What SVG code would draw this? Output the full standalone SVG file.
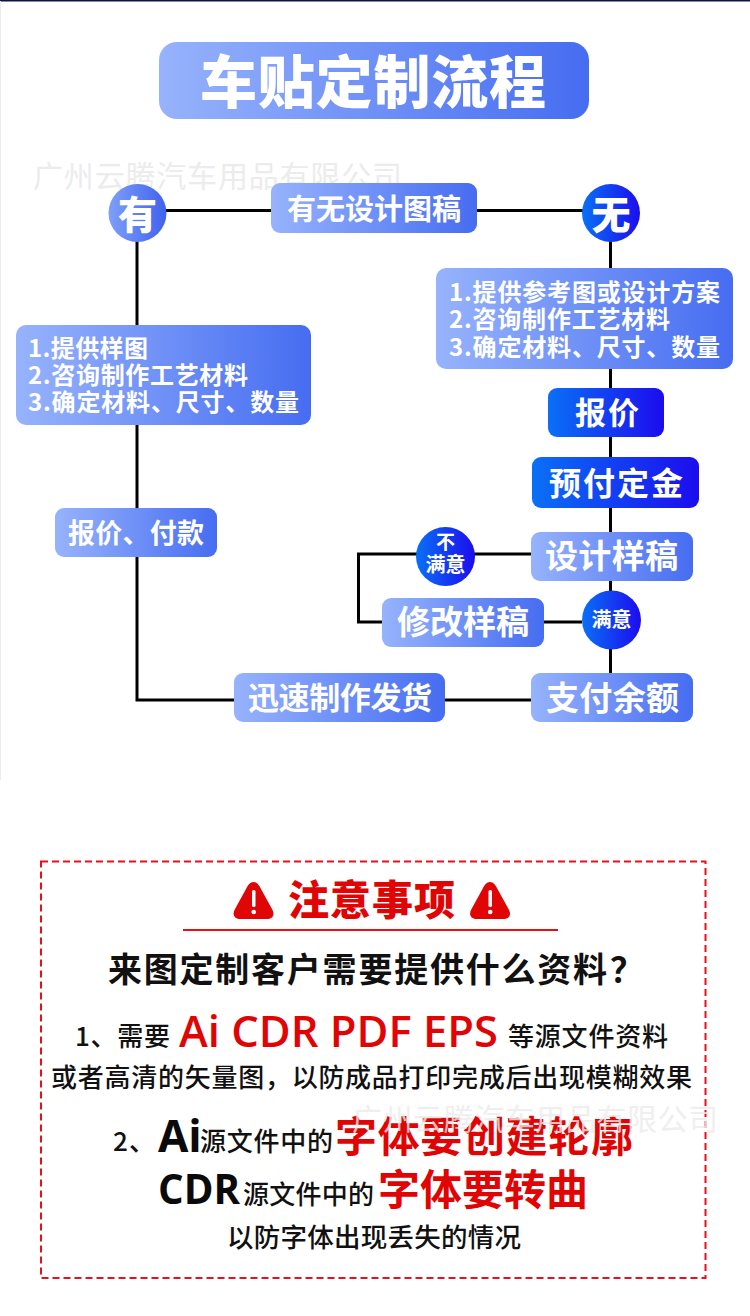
<svg xmlns="http://www.w3.org/2000/svg" width="750" height="1316" viewBox="0 0 750 1316">
<defs>
<linearGradient id="soft" x1="0" y1="0" x2="1" y2="0"><stop offset="0" stop-color="#97b3fc"/><stop offset="1" stop-color="#466df1"/></linearGradient>
<linearGradient id="deep" x1="0" y1="0" x2="1" y2="0"><stop offset="0" stop-color="#0a70f6"/><stop offset="1" stop-color="#1c0cee"/></linearGradient>
<linearGradient id="mid" x1="0" y1="0" x2="1" y2="0"><stop offset="0" stop-color="#7f9ff8"/><stop offset="1" stop-color="#3f62ee"/></linearGradient>
<path id="warn" d="M19.5 0C23 0 25 3 27 7L38 27C41 32 39.500 37 33 37H6C0 37 -2 32 1 27L12 7C14 3 16 0 19.500 0Z" fill="#e00606"/>
</defs>
<style>
text{font-family:"Noto Sans CJK SC","Noto Sans",sans-serif}
.w{fill:#fff;font-weight:700}
.k{fill:#111;font-weight:500}
.r{fill:#e00404;font-weight:700}
.l{fill:#e00404;font-family:"Open Sans","Noto Sans",sans-serif;font-weight:600}
.b{fill:#0a0a0a;font-family:"Open Sans","Noto Sans",sans-serif;font-weight:700}
.wm{fill:#ececec;font-size:30px}
.c{fill:none;stroke:#000;stroke-width:3}
</style>
<rect width="750" height="1316" fill="#fff"/>
<rect x="0" y="0" width="750" height="1.500" fill="#0b1440"/>
<rect x="0" y="1" width="1" height="779" fill="#ececec"/>
<text class="wm" x="33" y="187" textLength="369" lengthAdjust="spacing">广州云腾汽车用品有限公司</text>
<g id="connectors">
<path class="c" d="M137 210.500H611"/>
<path class="c" d="M137 213V700H234"/>
<path class="c" d="M610.500 213V673"/>
<path class="c" d="M445 700H531"/>
<path class="c" d="M531 554H358.500V622H382"/>
<path class="c" d="M544 622H582"/>
</g>
<g id="title"><rect x="159" y="42" width="430" height="77" rx="18" fill="url(#soft)"/><text class="w" style="font-weight:900" x="200" y="103" font-size="57" textLength="346" lengthAdjust="spacing">车贴定制流程</text></g>
<g id="node-you"><circle cx="137.500" cy="213" r="29" fill="url(#mid)"/><text class="w" style="font-weight:900" x="137.500" y="229" font-size="39" text-anchor="middle">有</text></g>
<g id="node-question"><rect x="271" y="183" width="206" height="50" rx="9" fill="url(#soft)"/><text class="w" x="287" y="220" font-size="29" textLength="174" lengthAdjust="spacing">有无设计图稿</text></g>
<g id="node-wu"><circle cx="611" cy="213" r="29" fill="url(#deep)"/><text class="w" style="font-weight:900" x="611" y="229" font-size="39" text-anchor="middle">无</text></g>
<g id="node-right-list"><rect x="436" y="268" width="297" height="101" rx="10" fill="url(#soft)"/>
<text class="w" x="449" y="301" font-size="24" textLength="271" lengthAdjust="spacing">1.提供参考图或设计方案</text>
<text class="w" x="449" y="328" font-size="24" textLength="221" lengthAdjust="spacing">2.咨询制作工艺材料</text>
<text class="w" x="449" y="356" font-size="24" textLength="271" lengthAdjust="spacing">3.确定材料、尺寸、数量</text></g>
<g id="node-left-list"><rect x="16" y="325" width="295" height="100" rx="10" fill="url(#soft)"/>
<text class="w" x="28" y="357" font-size="24" textLength="120" lengthAdjust="spacing">1.提供样图</text>
<text class="w" x="28" y="384" font-size="24" textLength="220" lengthAdjust="spacing">2.咨询制作工艺材料</text>
<text class="w" x="28" y="411" font-size="24" textLength="271" lengthAdjust="spacing">3.确定材料、尺寸、数量</text></g>
<g id="node-quote"><rect x="548" y="388" width="116" height="49" rx="9" fill="url(#deep)"/><text class="w" x="575" y="424" font-size="31" textLength="64" lengthAdjust="spacing">报价</text></g>
<g id="node-deposit"><rect x="532" y="457" width="167" height="51" rx="9" fill="url(#deep)"/><text class="w" x="549" y="495" font-size="32" textLength="134" lengthAdjust="spacing">预付定金</text></g>
<g id="node-quote-pay"><rect x="55" y="508" width="162" height="49" rx="9" fill="url(#soft)"/><text class="w" x="68" y="543" font-size="27" textLength="136" lengthAdjust="spacing">报价、付款</text></g>
<g id="node-sample"><rect x="531" y="532" width="162" height="49" rx="9" fill="url(#soft)"/><text class="w" x="545" y="568" font-size="33" textLength="133" lengthAdjust="spacing">设计样稿</text></g>
<g id="node-unsat"><circle cx="445.500" cy="556.500" r="29.500" fill="url(#deep)"/><text class="w" x="445.500" y="549" font-size="19" text-anchor="middle">不</text><text class="w" x="445.500" y="572" font-size="20" text-anchor="middle">满意</text></g>
<g id="node-edit"><rect x="382" y="598" width="162" height="49" rx="9" fill="url(#soft)"/><text class="w" x="397" y="634" font-size="33" textLength="132" lengthAdjust="spacing">修改样稿</text></g>
<g id="node-sat"><circle cx="611.500" cy="620" r="29.500" fill="url(#deep)"/><text class="w" x="611.500" y="627" font-size="20" text-anchor="middle">满意</text></g>
<g id="node-balance"><rect x="531" y="673" width="162" height="49" rx="9" fill="url(#soft)"/><text class="w" x="546" y="710" font-size="33" textLength="133" lengthAdjust="spacing">支付余额</text></g>
<g id="node-ship"><rect x="234" y="673" width="211" height="49" rx="9" fill="url(#soft)"/><text class="w" x="248" y="709" font-size="31" textLength="184" lengthAdjust="spacing">迅速制作发货</text></g>
<rect x="41" y="861.500" width="664.500" height="416.500" fill="none" stroke="#e8101c" stroke-width="2" stroke-dasharray="7 4"/>
<use href="#warn" x="234" y="882"/>
<rect x="252" y="890" width="3.500" height="17" rx="1.500" fill="#fff"/><circle cx="253.700" cy="912" r="2.300" fill="#fff"/>
<use href="#warn" x="470.500" y="882"/>
<rect x="488.500" y="890" width="3.500" height="17" rx="1.500" fill="#fff"/><circle cx="490.200" cy="912" r="2.300" fill="#fff"/>
<text class="r" x="288" y="915" font-size="41" textLength="167" lengthAdjust="spacing" style="font-weight:900">注意事项</text>
<rect x="183" y="929" width="375" height="2" fill="#e81010"/>
<text class="k" style="font-weight:700" x="108" y="982" font-size="34" textLength="499" lengthAdjust="spacing">来图定制客户需要提供什么资料</text>
<text class="k" style="font-weight:700" x="610" y="982" font-size="34">？</text>
<text class="k" x="75" y="1046" font-size="26" textLength="95" lengthAdjust="spacing">1、需要</text>
<text class="l" x="179" y="1047" font-size="43.500" textLength="319" lengthAdjust="spacing">Ai CDR PDF EPS</text>
<text class="k" x="508" y="1046" font-size="26" textLength="160" lengthAdjust="spacing">等源文件资料</text>
<text class="k" x="51" y="1087" font-size="26" textLength="641" lengthAdjust="spacing">或者高清的矢量图，以防成品打印完成后出现模糊效果</text>
<text class="k" x="113 129" y="1151" font-size="26">2、</text>
<text class="b" x="158" y="1152" font-size="44">Ai</text>
<text class="k" x="200" y="1151" font-size="26" textLength="133" lengthAdjust="spacing">源文件中的</text>
<text class="r" x="335" y="1152" font-size="42" textLength="298" lengthAdjust="spacing">字体要创建轮廓</text>
<text class="b" x="158" y="1204" font-size="41" textLength="82" lengthAdjust="spacingAndGlyphs">CDR</text>
<text class="k" x="243" y="1204" font-size="26" textLength="131" lengthAdjust="spacing">源文件中的</text>
<text class="r" x="378" y="1205" font-size="42" textLength="210" lengthAdjust="spacing">字体要转曲</text>
<text class="k" x="227" y="1247" font-size="26.500" textLength="294" lengthAdjust="spacing">以防字体出现丢失的情况</text>
<text class="wm" x="352" y="1130" textLength="366" lengthAdjust="spacing" opacity=".8">广州云腾汽车用品有限公司</text>
</svg>
